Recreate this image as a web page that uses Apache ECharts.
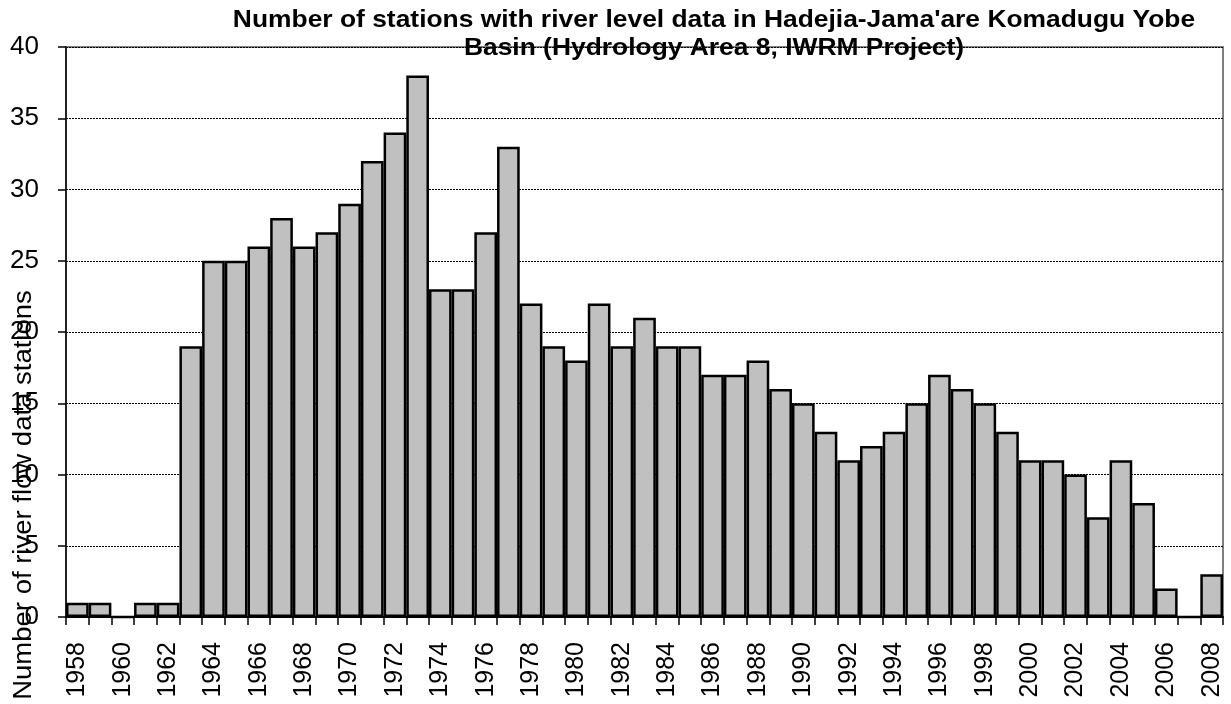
<!DOCTYPE html>
<html>
<head>
<meta charset="utf-8">
<script src="https://cdn.jsdelivr.net/npm/echarts@6/dist/echarts.min.js"></script>
<style>
  html, body { margin: 0; padding: 0; background: #fff; }
  #chart { width: 1231px; height: 704px; }
</style>
</head>
<body>
<div id="chart"></div>
<script>
// Years covered by the station inventory
const years = [
  '1958','1959','1960','1961','1962','1963','1964','1965','1966','1967',
  '1968','1969','1970','1971','1972','1973','1974','1975','1976','1977',
  '1978','1979','1980','1981','1982','1983','1984','1985','1986','1987',
  '1988','1989','1990','1991','1992','1993','1994','1995','1996','1997',
  '1998','1999','2000','2001','2002','2003','2004','2005','2006','2007','2008'
];
// Number of stations with data in each year
const stationCounts = [
  1, 1, 0, 1, 1, 19, 25, 25, 26, 28,
  26, 27, 29, 32, 34, 38, 23, 23, 27, 33,
  22, 19, 18, 22, 19, 21, 19, 19, 17, 17,
  18, 16, 15, 13, 11, 12, 13, 15, 17, 16,
  15, 13, 11, 11, 10, 7, 11, 8, 2, 0, 3
];
const yTicks = { min: 0, max: 40, interval: 5 };
const titleText = "Number of stations with river level data in Hadejia-Jama'are Komadugu Yobe\nBasin (Hydrology Area 8, IWRM Project)";
const yAxisTitle = 'Number of river flow data stations';

const chart = echarts.init(document.getElementById('chart'), null, { renderer: 'canvas' });
const font = '"Liberation Sans", Arial, sans-serif';

chart.setOption({
  animation: false,
  backgroundColor: '#ffffff',
  grid: {
    left: 66, right: 8, top: 47, bottom: 87,
    show: true, borderColor: '#808080', borderWidth: 2, backgroundColor: 'transparent'
  },
  xAxis: {
    type: 'category',
    data: years,
    boundaryGap: true,
    axisLine: { lineStyle: { color: '#000', width: 2 } },
    axisTick: { show: true, interval: 0, length: 8, lineStyle: { color: '#000', width: 1.5 } },
    axisLabel: {
      interval: 1, rotate: 90, margin: 25,
      fontFamily: font, fontSize: 25, color: '#000'
    },
    splitLine: { show: false }
  },
  yAxis: {
    type: 'value',
    min: yTicks.min, max: yTicks.max, interval: yTicks.interval,
    axisLine: { show: true, lineStyle: { color: '#222', width: 2 } },
    axisTick: { show: true, length: 8, lineStyle: { color: '#000', width: 1.5 } },
    axisLabel: { margin: 27, fontFamily: font, fontSize: 26, color: '#000' },
    splitLine: { show: true, lineStyle: { color: '#000', width: 1, type: [2, 1] } }
  },
  series: [{
    type: 'bar',
    data: stationCounts,
    barCategoryGap: '0%',
    itemStyle: { color: '#c0c0c0', borderColor: '#000', borderWidth: 2.5 }
  }],
  graphic: [
    {
      type: 'text', x: 714, y: 34, scaleX: 1.1, z: 100,
      style: {
        text: titleText, align: 'center', verticalAlign: 'middle',
        fontFamily: font, fontWeight: 'bold', fontSize: 24, lineHeight: 28, fill: '#000'
      }
    },
    {
      type: 'text', x: 24, y: 495, rotation: Math.PI / 2, scaleX: 1.1, z: 100,
      style: {
        text: yAxisTitle, align: 'center', verticalAlign: 'middle',
        fontFamily: font, fontSize: 25, fill: '#000'
      }
    }
  ]
});
</script>
</body>
</html>
